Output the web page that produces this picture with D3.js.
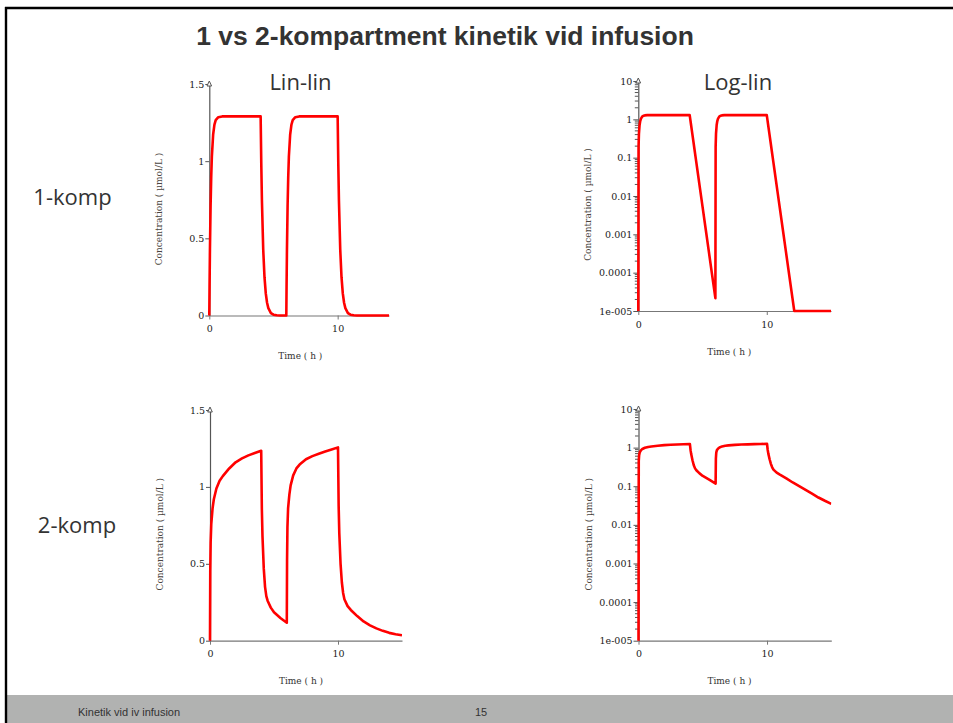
<!DOCTYPE html>
<html>
<head>
<meta charset="utf-8">
<script src="https://cdn.jsdelivr.net/npm/d3@7"></script>
<style>
  html, body { margin: 0; padding: 0; background: #fff; }
  svg { display: block; }
</style>
</head>
<body>
<script>
// One-compartment model: two 4 h infusions (0–4 h and 6–10 h)
const time1 = [0, 0.02, 0.05, 0.1, 0.15, 0.2, 0.3, 0.4, 0.5, 0.7, 1.0, 4.0,
  4.05, 4.1, 4.2, 4.3, 4.4, 4.5, 4.6, 4.8, 5.0, 5.25, 5.5, 5.75, 6.0,
  6.02, 6.05, 6.1, 6.15, 6.2, 6.3, 6.4, 6.5, 6.7, 7.0, 10.0,
  10.05, 10.1, 10.2, 10.3, 10.4, 10.5, 10.6, 10.8, 11.0, 11.25, 11.5, 11.75, 12.0, 12.14,
  12.5, 13.0, 14.0, 15.0];
const conc1 = [0, 0.191, 0.426, 0.711, 0.901, 1.030, 1.173, 1.237, 1.266, 1.285, 1.29, 1.29,
  0.980, 0.744, 0.429, 0.248, 0.143, 0.0825, 0.0476, 0.01584, 0.00527, 0.001333, 0.000337, 0.000085, 0.0000216,
  0.191, 0.426, 0.711, 0.901, 1.030, 1.173, 1.237, 1.266, 1.285, 1.29, 1.29,
  0.980, 0.744, 0.429, 0.248, 0.143, 0.0825, 0.0476, 0.01584, 0.00527, 0.001333, 0.000337, 0.000085, 0.0000216, 0.00001,
  0.0000014, 0.000000088, 0.00000000036, 0.0000000000015];

// Two-compartment model: same dosing schedule
const time2 = [0, 0.02, 0.05, 0.1, 0.2, 0.3, 0.5, 0.75, 1.0, 1.5, 2.0, 2.5, 3.0, 3.5, 4.0,
  4.05, 4.1, 4.2, 4.3, 4.4, 4.5, 4.75, 5.0, 5.5, 6.0,
  6.02, 6.05, 6.1, 6.2, 6.3, 6.5, 6.75, 7.0, 7.5, 8.0, 8.5, 9.0, 9.5, 10.0,
  10.05, 10.1, 10.2, 10.3, 10.4, 10.5, 10.75, 11.0, 11.5, 12.0, 12.5, 13.0, 13.5, 14.0, 14.5, 15.0];
const conc2 = [0, 0.45, 0.64, 0.76, 0.86, 0.92, 0.99, 1.04, 1.07, 1.12, 1.16, 1.185, 1.205, 1.22, 1.235,
  0.86, 0.68, 0.47, 0.35, 0.29, 0.26, 0.215, 0.185, 0.148, 0.117,
  0.52, 0.74, 0.86, 0.95, 1.01, 1.075, 1.12, 1.145, 1.18, 1.2, 1.215, 1.23, 1.243, 1.257,
  0.88, 0.70, 0.50, 0.38, 0.31, 0.27, 0.225, 0.2, 0.16, 0.125, 0.1, 0.08, 0.064, 0.051, 0.042, 0.035];

// Axis ticks
const timeTicks = [0, 10];
const linTicks = [0, 0.5, 1, 1.5];
const linTickLabels = ["0", "0.5", "1", "1.5"];
const logTicks = [1e-5, 1e-4, 1e-3, 1e-2, 1e-1, 1, 10];
const logTickLabels = ["1e-005", "0.0001", "0.001", "0.01", "0.1", "1", "10"];

// Text
const pageTitle = "1 vs 2-kompartment kinetik vid infusion";
const columnTitles = ["Lin-lin", "Log-lin"];
const rowTitles = ["1-komp", "2-komp"];
const xAxisTitle = "Time ( h )";
const yAxisTitle = "Concentration ( \u00b5mol/L )";
const footerLeft = "Kinetik vid iv infusion";
const footerPage = "15";

const W = 953, H = 723;
const svg = d3.select("body").append("svg").attr("width", W).attr("height", H);

// Slide frame
svg.append("rect").attr("x", 7).attr("y", 695).attr("width", W - 7).attr("height", H - 695).attr("fill", "#b1b2b1");
svg.append("line").attr("x1", 5).attr("x2", W).attr("y1", 8).attr("y2", 8).attr("stroke", "#000").attr("stroke-width", 2.4);
svg.append("line").attr("x1", 6).attr("x2", 6).attr("y1", 7).attr("y2", H).attr("stroke", "#000").attr("stroke-width", 2.4);

svg.append("text").attr("x", 445).attr("y", 45).attr("text-anchor", "middle")
  .attr("font-family", "Liberation Sans, Arial, sans-serif").attr("font-weight", "bold")
  .attr("font-size", 26.5).attr("fill", "#333").text(pageTitle);

const sansTitle = "Open Sans, Liberation Sans, sans-serif";
svg.append("text").attr("x", 300.5).attr("y", 90).attr("text-anchor", "middle")
  .attr("font-family", sansTitle).attr("font-size", 22).attr("fill", "#333").text(columnTitles[0]);
svg.append("text").attr("x", 738).attr("y", 90).attr("text-anchor", "middle")
  .attr("font-family", sansTitle).attr("font-size", 22).attr("fill", "#333").text(columnTitles[1]);
svg.append("text").attr("x", 72.5).attr("y", 205).attr("text-anchor", "middle")
  .attr("font-family", sansTitle).attr("font-size", 22).attr("fill", "#333").text(rowTitles[0]);
svg.append("text").attr("x", 77).attr("y", 533).attr("text-anchor", "middle")
  .attr("font-family", sansTitle).attr("font-size", 22).attr("fill", "#333").text(rowTitles[1]);

const footFont = "Liberation Sans Narrow, Liberation Sans, sans-serif";
svg.append("text").attr("x", 78).attr("y", 716)
  .attr("font-family", footFont).attr("font-size", 11)
  .attr("fill", "#333").text(footerLeft);
svg.append("text").attr("x", 481).attr("y", 716).attr("text-anchor", "middle")
  .attr("font-family", footFont).attr("font-size", 11)
  .attr("fill", "#333").text(footerPage);

const panels = [
  { id: "p1", time: time1, conc: conc1, log: false, x0: 209.3, x1: 389, tmax: 14, yB: 315.5, yT: 84 },
  { id: "p2", time: time1, conc: conc1, log: true,  x0: 638.3, x1: 831, tmax: 15, yB: 311, yT: 81 },
  { id: "p3", time: time2, conc: conc2, log: false, x0: 210, x1: 402, tmax: 15, yB: 640.7, yT: 410 },
  { id: "p4", time: time2, conc: conc2, log: true,  x0: 638.5, x1: 831.3, tmax: 15, yB: 640.7, yT: 409 }
];

const tickFont = "DejaVu Serif, Liberation Serif, serif";
const axisGrey = "#777";

panels.forEach(p => {
  const x = d3.scaleLinear().domain([0, p.tmax]).range([p.x0, p.x1]);
  const y = p.log
    ? d3.scaleLog().domain([1e-5, 10]).range([p.yB, p.yT]).clamp(true)
    : d3.scaleLinear().domain([0, 1.5]).range([p.yB, p.yT]);
  const g = svg.append("g");

  // x axis
  const xa = g.append("g").attr("transform", `translate(0,${p.yB})`)
    .call(d3.axisBottom(x).tickValues(timeTicks).tickFormat(d3.format("d")).tickSize(4).tickPadding(6).tickSizeOuter(0));
  xa.select(".domain").attr("stroke", axisGrey).attr("stroke-width", 1.2);
  xa.selectAll(".tick line").attr("stroke", axisGrey);
  xa.selectAll("text").attr("font-family", tickFont).attr("font-size", 9.5).attr("fill", "#1a1a1a");

  // y axis
  let ya;
  if (p.log) {
    ya = g.append("g").attr("transform", `translate(${p.x0},0)`)
      .call(d3.axisLeft(y).tickValues(logTicks).tickFormat((d, i) => logTickLabels[i]).tickSize(5).tickPadding(1).tickSizeOuter(0));
    const minor = [];
    logTicks.slice(0, -1).forEach(dec => { for (let m = 2; m <= 9; m++) minor.push(dec * m); });
    g.append("g").selectAll("line").data(minor).join("line")
      .attr("x1", p.x0 - 3.5).attr("x2", p.x0).attr("y1", d => y(d)).attr("y2", d => y(d))
      .attr("stroke", "#555").attr("stroke-width", 1);
  } else {
    ya = g.append("g").attr("transform", `translate(${p.x0},0)`)
      .call(d3.axisLeft(y).tickValues(linTicks).tickFormat((d, i) => linTickLabels[i]).tickSize(4).tickPadding(1).tickSizeOuter(0));
  }
  ya.select(".domain").attr("stroke", "#555").attr("stroke-width", 1.2);
  ya.selectAll(".tick line").attr("stroke", "#555");
  ya.selectAll("text").attr("font-family", tickFont).attr("font-size", 9.5).attr("fill", "#1a1a1a");

  // open arrow head at the top of the y axis
  g.append("path")
    .attr("d", `M${p.x0 - 2.3},${p.yT + 2} L${p.x0},${p.yT - 3} L${p.x0 + 2.3},${p.yT + 2} Z`)
    .attr("fill", "#fff").attr("stroke", "#555").attr("stroke-width", 1);

  // axis titles
  g.append("text").attr("x", p.x0 + 91).attr("y", p.yB + 43.5).attr("text-anchor", "middle")
    .attr("font-family", tickFont).attr("font-size", 9).attr("fill", "#333").text(xAxisTitle);
  g.append("text").attr("transform", `translate(${p.x0 - 47},${p.yB - 106.5}) rotate(-90)`)
    .attr("text-anchor", "middle").attr("font-family", tickFont).attr("font-size", 9)
    .attr("fill", "#4a4540").text(yAxisTitle);

  // concentration curve
  svg.append("clipPath").attr("id", "clip-" + p.id).append("rect")
    .attr("x", p.x0 - 3).attr("y", p.yT - 3).attr("width", p.x1 - p.x0 + 3).attr("height", p.yB - p.yT + 6);
  const pts = p.time.map((t, i) => [t, p.conc[i]]);
  const line = d3.line().x(d => x(d[0])).y(d => y(p.log ? Math.max(d[1], 1e-5) : d[1]));
  g.append("path").datum(pts).attr("clip-path", `url(#clip-${p.id})`)
    .attr("d", line).attr("fill", "none").attr("stroke", "#ff0000")
    .attr("stroke-width", 2.6).attr("stroke-linejoin", "round");
});
</script>
</body>
</html>
